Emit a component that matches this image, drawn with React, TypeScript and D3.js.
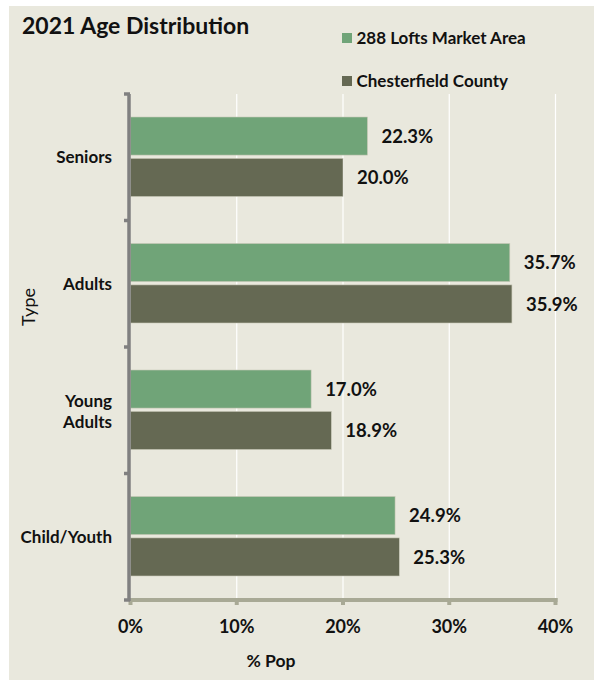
import React from "react";
import * as d3 from "d3";

const categories = ["Seniors", "Adults", "Young Adults", "Child/Youth"];
const seriesNames = ["288 Lofts Market Area", "Chesterfield County"];
const marketArea = [22.3, 35.7, 17.0, 24.9];
const county = [20.0, 35.9, 18.9, 25.3];
const xTicks = [0, 10, 20, 30, 40];
const colors = ["#70a478", "#656953"];

const W = 594;
const H = 680;
const FONT = "Lato, 'Open Sans', sans-serif";

export default function App() {
  const x = d3.scaleLinear().domain([0, 40]).range([130.5, 555.5]);
  const y = d3.scaleBand().domain(categories).range([94, 600]).paddingInner(0).paddingOuter(0);
  const bw = y.bandwidth();
  const inner = d3.scaleBand().domain(seriesNames).range([23, 102.5]).paddingInner(0.08).paddingOuter(0);
  const series = [marketArea, county];

  return (
    <svg width={W} height={H} style={{ position: "absolute", left: 0, top: 0, fontFamily: FONT }}>
      <rect x={9} y={6} width={W - 9} height={H - 6} fill="#e9e8dd" />
      <text x={22} y={34} fontSize={23} fontWeight="bold" fill="#111">2021 Age Distribution</text>
      {seriesNames.map((s, i) => (
        <g key={s} transform={`translate(342,${33 + i * 43})`}>
          <rect x={0} y={0} width={10} height={10} fill={colors[i]} />
          <text x={14.5} y={10.5} fontSize={17} fontWeight="bold" fill="#111">{s}</text>
        </g>
      ))}
      {xTicks.slice(1).map((t) => (
        <line key={t} x1={x(t)} x2={x(t)} y1={94} y2={600} stroke="#ffffff" strokeWidth={1.2} />
      ))}
      {categories.map((c, ci) => (
        <g key={c}>
          {series.map((vals, si) => {
            const y0 = (y(c) as number) + (inner(seriesNames[si]) as number);
            const bh = inner.bandwidth();
            return (
              <g key={si}>
                <rect x={x(0)} y={y0} width={x(vals[ci]) - x(0)} height={bh} fill={colors[si]} stroke="#c9c9b8" strokeWidth={0.6} />
                <text x={x(vals[ci]) + 14} y={y0 + bh / 2} dy="0.36em" fontSize={18.5} fontWeight="bold" fill="#111">
                  {vals[ci].toFixed(1)}%
                </text>
              </g>
            );
          })}
          {c === "Young Adults" ? (
            <text x={112} y={(y(c) as number) + bw / 2} fontSize={17} fontWeight="bold" fill="#111" textAnchor="end">
              <tspan x={112} dy="-0.2em">Young</tspan>
              <tspan x={112} dy="1.25em">Adults</tspan>
            </text>
          ) : (
            <text x={112} y={(y(c) as number) + bw / 2} dy="0.36em" fontSize={17} fontWeight="bold" fill="#111" textAnchor="end">{c}</text>
          )}
        </g>
      ))}
      {/* x axis */}
      <line x1={x(0)} x2={x(40) + 2} y1={600} y2={600} stroke="#a8a995" strokeWidth={4} />
      {xTicks.map((t) => (
        <g key={t}>
          <line x1={x(t)} x2={x(t)} y1={598} y2={605} stroke="#a8a995" strokeWidth={4} />
          <text x={x(t)} y={633} fontSize={18} fontWeight="bold" fill="#111" textAnchor="middle">{t}%</text>
        </g>
      ))}
      {/* y axis */}
      <line x1={129} x2={129} y1={94} y2={601} stroke="#808080" strokeWidth={3.5} />
      {[0, 1, 2, 3, 4].map((i) => {
        const yy = 94 + i * bw;
        return <line key={i} x1={124} x2={130} y1={yy} y2={yy} stroke="#808080" strokeWidth={3.5} />;
      })}
      <text x={271} y={667} fontSize={17.5} fontWeight="bold" fill="#111" textAnchor="middle">% Pop</text>
      <text transform="translate(35,307) rotate(-90)" fontSize={18} fill="#111" textAnchor="middle">Type</text>
    </svg>
  );
}
